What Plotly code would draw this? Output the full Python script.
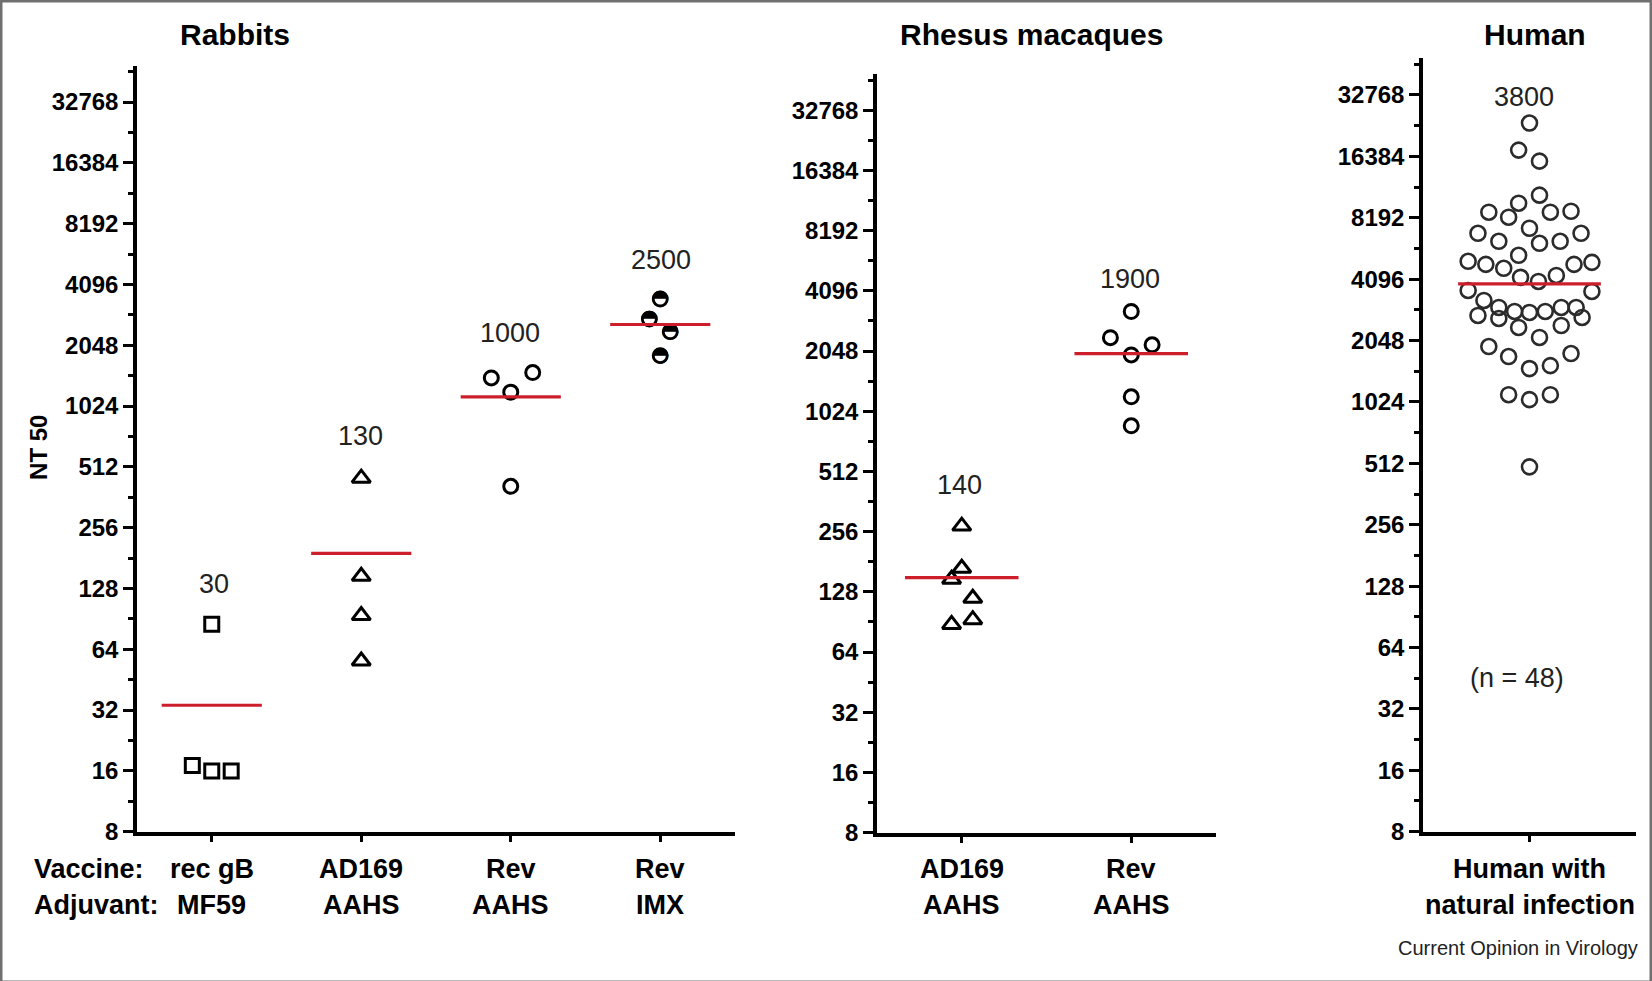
import math
import plotly.graph_objects as go

# ---------------- data ----------------
rabbit_vaccines = ["rec gB", "AD169", "Rev", "Rev"]
rabbit_adjuvants = ["MF59", "AAHS", "AAHS", "IMX"]
rhesus_vaccines = ["AD169", "Rev"]
rhesus_adjuvants = ["AAHS", "AAHS"]
human_groups = ["Human with"]
human_groups_2 = ["natural infection"]

# Rabbits
recgb_values = [85, 17, 16, 16]
recgb_jitter = [0.0, -0.13, 0.0, 0.13]
ad169_rabbit_values = [450, 147, 94, 56]
ad169_rabbit_jitter = [0, 0, 0, 0]
rev_aahs_values = [1410, 1500, 1200, 410]
rev_aahs_jitter = [-0.13, 0.147, 0.0, 0.0]
rev_imx_values = [3470, 2760, 2390, 1820]
rev_imx_jitter = [0.0, -0.073, 0.067, 0.0]

# Rhesus macaques
ad169_rhesus_values = [273, 168, 148, 119, 88, 93]
ad169_rhesus_jitter = [0.0, 0.0, -0.06, 0.065, -0.06, 0.065]
rev_rhesus_values = [3230, 2390, 2200, 1960, 1210, 866]
rev_rhesus_jitter = [0.0, -0.123, 0.123, 0.0, 0.0, 0.0]

# Human (n = 48)
human_values = [23870, 17580, 15520, 10570, 9650, 8720, 8240, 8720, 8815, 6875,
                7275, 6875, 6280, 6140, 6280, 5360, 5010, 4840, 4630, 4840,
                4950, 4180, 3990, 4270, 3605, 3565, 3220, 2975, 2843, 2812,
                2843, 2975, 2975, 2718, 2627, 2658, 2373, 2427, 2120, 1914,
                1709, 1768, 1492, 1543, 1111, 1051, 1111, 492]
human_jitter = [0.0, -0.051, 0.047, 0.047, -0.051, -0.191, -0.098, 0.098, 0.195, -0.242,
                0.0, 0.242, -0.144, 0.047, 0.144, -0.051, -0.288, -0.205, -0.121, 0.209,
                0.293, -0.042, 0.042, 0.126, -0.288, 0.293, -0.214, -0.144, -0.07, 0.0,
                0.074, 0.149, 0.219, -0.242, -0.144, 0.247, -0.051, 0.149, 0.047, -0.191,
                -0.098, 0.195, 0.0, 0.098, -0.098, 0.0, 0.098, 0.0]

# Group mean lines (position of the red bars) and printed GMT labels
rabbit_means = [33.8, 191, 1137, 2594]
rhesus_means = [151, 1990]
human_means = [3880]
rabbit_labels = ["30", "130", "1000", "2500"]
rhesus_labels = ["140", "1900"]
human_labels = ["3800"]

y_tickvals = [8, 16, 32, 64, 128, 256, 512, 1024, 2048, 4096, 8192, 16384, 32768]
y_ticktext = [str(v) for v in y_tickvals]
y_minor = [2 ** (k + 0.5) for k in range(3, 16)]

# ---------------- figure ----------------
W = 1652
REF_H = 981          # layout is planned in the 1652x981 picture space
H = 996              # page height (the photograph compresses the page vertically)
FONT = "Liberation Sans"
RED = "#cc1f2b"

fig = go.Figure()


def px_x(p):
    return p / W


def px_y(p):
    return 1 - p / REF_H


def add_points(cat_idx, values, jitter, xa, ya, symbol, size, lw, color="black", text=None):
    xs = [cat_idx + j for j in jitter]
    tr = dict(x=xs, y=values, xaxis=xa, yaxis=ya, showlegend=False, hoverinfo="y",
              marker=dict(symbol=symbol, size=size, color=color, line=dict(width=lw, color=color)))
    if text:
        tr.update(mode="markers+text", text=[text] * len(values), textposition="middle center",
                  textfont=dict(family="DejaVu Sans", size=21, color="black"))
    else:
        tr.update(mode="markers")
    fig.add_trace(go.Scatter(**tr))


def add_mean(cat_idx, mean, xa, ya):
    fig.add_trace(go.Scatter(x=[cat_idx - 0.335, cat_idx + 0.335], y=[mean, mean], mode="lines",
                             line=dict(color=RED, width=3.2), xaxis=xa, yaxis=ya,
                             showlegend=False, hoverinfo="skip"))


# Rabbits (x, y)
add_points(0, recgb_values, recgb_jitter, "x", "y", "square-open", 14, 3)
add_points(1, ad169_rabbit_values, ad169_rabbit_jitter, "x", "y", "triangle-up-open", 16, 3)
add_points(2, rev_aahs_values, rev_aahs_jitter, "x", "y", "circle-open", 14, 3)
add_points(3, rev_imx_values, rev_imx_jitter, "x", "y", "circle-open", 14, 2.8, text="\u25d3")
for i, m in enumerate(rabbit_means):
    add_mean(i, m, "x", "y")

# Rhesus (x2, y2)
add_points(0, ad169_rhesus_values, ad169_rhesus_jitter, "x2", "y2", "triangle-up-open", 16, 3)
add_points(1, rev_rhesus_values, rev_rhesus_jitter, "x2", "y2", "circle-open", 14, 3)
for i, m in enumerate(rhesus_means):
    add_mean(i, m, "x2", "y2")

# Human (x3, y3)
add_points(0, human_values, human_jitter, "x3", "y3", "circle-open", 15, 2.6, color="#2b2b2b")
for i, m in enumerate(human_means):
    add_mean(i, m, "x3", "y3")


def yaxis_cfg(top_px, bottom_px, top_log2, anchor):
    return dict(type="log", range=[math.log10(8), top_log2 * math.log10(2)],
                domain=[px_y(bottom_px), px_y(top_px)], anchor=anchor,
                tickvals=y_tickvals, ticktext=y_ticktext, ticks="outside", ticklen=10,
                tickwidth=3, tickcolor="black", showline=True, linewidth=3.5, linecolor="black",
                showgrid=False, zeroline=False,
                tickfont=dict(family=FONT, size=24, color="black", weight="bold"),
                minor=dict(tickvals=y_minor, ticks="outside", ticklen=5, tickwidth=3,
                           tickcolor="black", showgrid=False))


def xaxis_cfg(left_px, right_px, n, anchor):
    return dict(domain=[px_x(left_px), px_x(right_px)], anchor=anchor,
                range=[-0.5, n - 0.5], tickvals=list(range(n)), showticklabels=False,
                ticks="outside", ticklen=7, tickwidth=3, tickcolor="black", showline=True,
                linewidth=3.5, linecolor="black", showgrid=False, zeroline=False)


fig.update_layout(
    width=W, height=H, autosize=False, margin=dict(l=0, r=0, t=0, b=0, pad=0),
    paper_bgcolor="white", plot_bgcolor="white", showlegend=False,
    xaxis=xaxis_cfg(137, 735, len(rabbit_vaccines), "y"),
    yaxis=yaxis_cfg(66, 830, 15.59, "x"),
    xaxis2=xaxis_cfg(877, 1216, len(rhesus_vaccines), "y2"),
    yaxis2=yaxis_cfg(74, 831, 15.6, "x2"),
    xaxis3=xaxis_cfg(1423, 1636, len(human_groups), "y3"),
    yaxis3=yaxis_cfg(58, 830, 15.6, "x3"),
)

ann = []


def text(x, y, s, size, bold=False, color="black", xanchor="center", angle=0, xref="paper"):
    ann.append(dict(x=px_x(x) if xref == "paper" else x, y=px_y(y), xref=xref, yref="paper",
                    text=s, showarrow=False, xanchor=xanchor, yanchor="middle", textangle=angle,
                    font=dict(family=FONT, size=size, color=color,
                              weight="bold" if bold else "normal")))


# panel titles
text(235, 34, "Rabbits", 30, bold=True)
text(1031, 34, "Rhesus macaques", 30, bold=True)
text(1535, 34, "Human", 30, bold=True)
# y title
text(39, 447, "NT 50", 24, bold=True, angle=-90)
# row headers
text(32, 867, "Vaccine:", 27, bold=True, xanchor="left")
text(32, 903, "Adjuvant:", 27, bold=True, xanchor="left")

# category labels, placed on each panel's category axis
for xr, l1, l2 in [("x", rabbit_vaccines, rabbit_adjuvants),
                   ("x2", rhesus_vaccines, rhesus_adjuvants),
                   ("x3", human_groups, human_groups_2)]:
    for i, (a, b) in enumerate(zip(l1, l2)):
        text(i, 867, a, 27, bold=True, xref=xr)
        text(i, 903, b, 27, bold=True, xref=xr)

# GMT labels
rabbit_label_px = [(214, 583), (360, 435), (510, 332), (661, 259)]
rhesus_label_px = [(959, 484), (1130, 278)]
human_label_px = [(1524, 97)]
for s, (x, y) in zip(rabbit_labels, rabbit_label_px):
    text(x, y, s, 27, color="#222222")
for s, (x, y) in zip(rhesus_labels, rhesus_label_px):
    text(x, y, s, 27, color="#222222")
for s, (x, y) in zip(human_labels, human_label_px):
    text(x, y, s, 27, color="#222222")
text(1517, 677, "(n = 48)", 27, color="#222222")
text(1640, 946, "Current Opinion in Virology", 20, color="#222222", xanchor="right")

fig.update_layout(annotations=ann)
fig.add_shape(type="rect", xref="paper", yref="paper", x0=0, y0=0, x1=1, y1=1,
              line=dict(color="#707070", width=5), layer="above")

fig.write_html("out.html", config={"responsive": False})
